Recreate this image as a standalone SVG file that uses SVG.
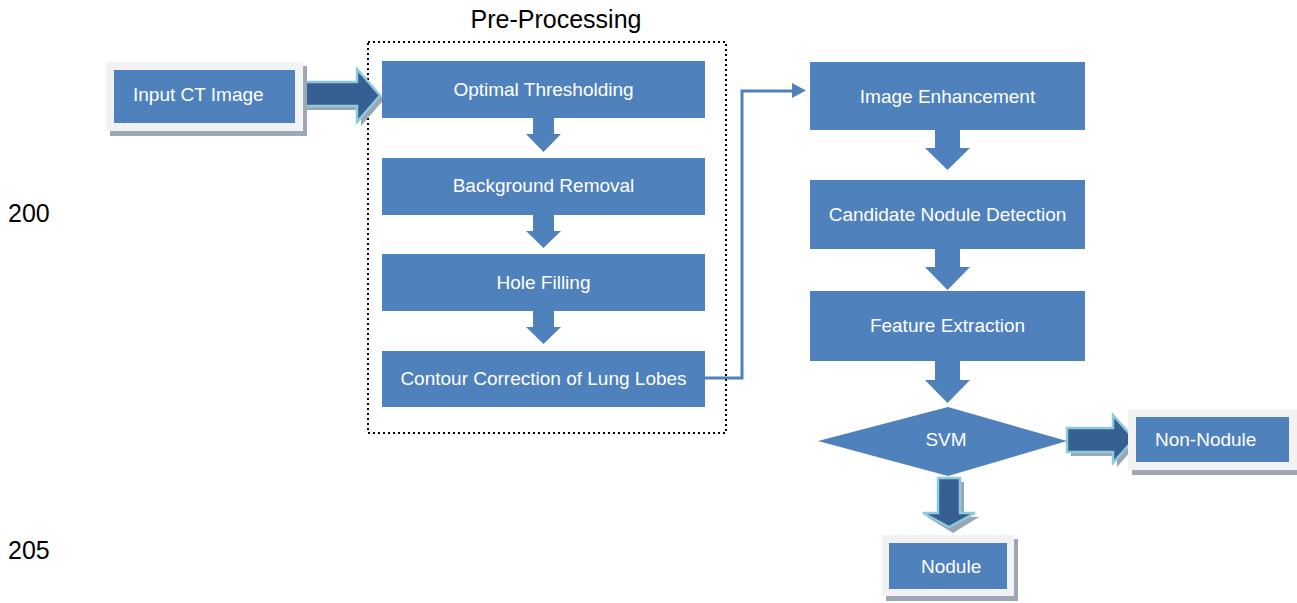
<svg xmlns="http://www.w3.org/2000/svg" width="1297" height="603" viewBox="0 0 1297 603">
<defs>
<style>
.box{fill:#4f81bd}
.t{font-family:"Liberation Sans",Arial,sans-serif;font-size:19px;fill:#ffffff}
.tc{text-anchor:middle}
.frame{fill:#f2f2f2}
.fshadow{fill:#9ea8b4}
.fat{fill:#366092;stroke:#8ccbdd;stroke-width:2.5;stroke-linejoin:miter}
.fatsh{fill:#9aa6b1}
.down{fill:#4f81bd}
.conn{fill:none;stroke:#4f81bd;stroke-width:3}
.lbl{font-family:"Liberation Sans",Arial,sans-serif;font-size:25px;fill:#000000}
</style>
</defs>
<rect width="1297" height="603" fill="#ffffff"/>

<text class="lbl" x="8" y="222">200</text>
<text class="lbl" x="8" y="559">205</text>

<g id="preprocessing-group">
<rect x="368" y="42" width="358" height="391" fill="none" stroke="#000" stroke-width="2" stroke-dasharray="2 3"/>
<text class="lbl" x="556" y="28" text-anchor="middle">Pre-Processing</text>
</g>

<g id="connectors">
<polygon class="fatsh" points="303,86 361,86 361,73 384,99.5 361,126 361,110 303,110"/>
<polygon class="fat" points="299,82 357,82 357,69 380,95.5 357,122 357,106 299,106"/>
<polygon class="fatsh" points="1071,432 1117,432 1117,419 1138,443 1117,467 1117,456 1071,456"/>
<polygon class="fat" points="1067,428 1113,428 1113,415 1134,439 1113,463 1113,452 1067,452"/>
<polygon class="fatsh" points="942,482 964,482 964,517 979,517 953,533 927,517 942,517"/>
<polygon class="fat" points="938,478 960,478 960,513 975,513 949,527 923,513 938,513"/>
<polygon class="down" points="533,117 554,117 554,134 561,134 543.5,152 526,134 533,134"/>
<polygon class="down" points="533,214 554,214 554,231 561,231 543.5,248 526,231 533,231"/>
<polygon class="down" points="533,310 554,310 554,327 561,327 543.5,344 526,327 533,327"/>
<polygon class="down" points="935,129 960,129 960,148 970,148 947.5,170 925,148 935,148"/>
<polygon class="down" points="935,248 960,248 960,267 970,267 947.5,290 925,267 935,267"/>
<polygon class="down" points="935,360 960,360 960,380 970,380 947.5,403 925,380 935,380"/>
<polyline class="conn" points="705,378 742,378 742,91 794,91"/>
<polygon fill="#4f81bd" points="792,83 806,90.5 792,98"/>
</g>

<g id="input-ct-image">
<rect class="fshadow" x="110" y="66" width="197" height="70"/>
<rect class="frame" x="106" y="62" width="197" height="69"/>
<rect class="box" x="114" y="70" width="181" height="53"/>
<text class="t" x="133" y="101">Input CT Image</text>
</g>

<g id="optimal-thresholding">
<rect class="box" x="382" y="61" width="323" height="57"/>
<text class="t tc" x="543.5" y="96">Optimal Thresholding</text>
</g>
<g id="background-removal">
<rect class="box" x="382" y="158" width="323" height="57"/>
<text class="t tc" x="543.5" y="192">Background Removal</text>
</g>
<g id="hole-filling">
<rect class="box" x="382" y="254" width="323" height="57"/>
<text class="t tc" x="543.5" y="289">Hole Filling</text>
</g>
<g id="contour-correction">
<rect class="box" x="382" y="351" width="323" height="56"/>
<text class="t tc" x="543.5" y="385">Contour Correction of Lung Lobes</text>
</g>

<g id="image-enhancement">
<rect class="box" x="810" y="62" width="275" height="68"/>
<text class="t tc" x="947.5" y="103">Image Enhancement</text>
</g>
<g id="candidate-nodule-detection">
<rect class="box" x="810" y="180" width="275" height="69"/>
<text class="t tc" x="947.5" y="221">Candidate Nodule Detection</text>
</g>
<g id="feature-extraction">
<rect class="box" x="810" y="291" width="275" height="70"/>
<text class="t tc" x="947.5" y="332">Feature Extraction</text>
</g>
<g id="svm">
<polygon class="box" points="818,441 948,407 1067,441 948,476"/>
<text class="t tc" x="946" y="446">SVM</text>
</g>

<g id="non-nodule">
<rect class="fshadow" x="1132" y="413" width="170" height="62"/>
<rect class="frame" x="1128" y="409" width="170" height="61"/>
<rect class="box" x="1136" y="417" width="153" height="45"/>
<text class="t" x="1155" y="446">Non-Nodule</text>
</g>

<g id="nodule">
<rect class="fshadow" x="886" y="539" width="132" height="62"/>
<rect class="frame" x="882" y="535" width="132" height="61"/>
<rect class="box" x="889" y="543" width="118" height="46"/>
<text class="t" x="921" y="573">Nodule</text>
</g>
</svg>
